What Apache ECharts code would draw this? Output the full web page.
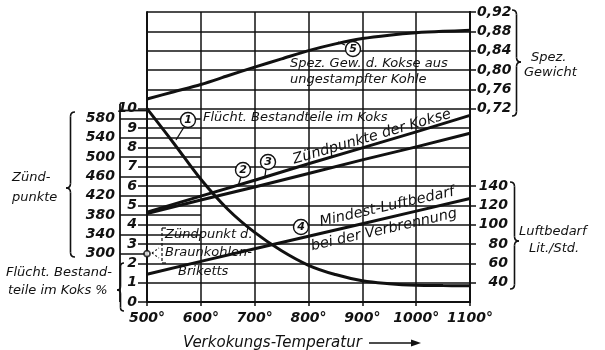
<!DOCTYPE html>
<html>
<head>
<meta charset="utf-8">
<script src="https://cdn.jsdelivr.net/npm/echarts@6/dist/echarts.min.js"></script>
<style>
html,body{margin:0;padding:0;background:#fff;}
#c{width:605px;height:350px;}
</style>
</head>
<body>
<div id="c"></div>
<script>
// ---- data ----
const tempsCurve = [500, 550, 600, 650, 700, 750, 800, 850, 900, 950, 1000, 1050, 1100];
const fluechtig = [10.0, 8.2, 6.35, 4.8, 3.6, 2.65, 1.9, 1.42, 1.1, 0.95, 0.87, 0.85, 0.84];         // curve 1, %
const spezGewicht = [0.740, 0.755, 0.770, 0.788, 0.806, 0.823, 0.840, 0.854, 0.865, 0.872, 0.877, 0.880, 0.882]; // curve 5
const tempsLine = [500, 600, 700, 800, 900, 1000, 1100];
const zuendKokse2 = [383, 411, 438, 466, 494, 521, 549];   // curve 2
const zuendKokse3 = [386, 419, 452, 486, 519, 552, 586];   // curve 3
const luftbedarf = [48.7, 62, 75, 88, 101, 114, 127];      // curve 4
const braunkohlePunkt = [[500, 300]];                       // Zündpunkt d. Braunkohlen-Briketts
const fluechtTicks = [0, 1, 2, 3, 4, 5, 6, 7, 8, 9, 10];
const zuendTicks = [300, 340, 380, 420, 460, 500, 540, 580];
const zuendHalfLines = [340, 380, 420, 460, 500, 540, 580];
const spezTicks = [0.72, 0.76, 0.80, 0.84, 0.88, 0.92];
const luftTicks = [40, 60, 80, 100, 120, 140];

const INK = '#111';
const NUMFONT = {fontFamily: 'DejaVu Sans', fontStyle: 'italic', fontWeight: 'bold', fontSize: 14, color: INK};
const TXT = 'italic 13px "DejaVu Sans"';
const TXT_BIG = 'italic 14.5px "DejaVu Sans"';

const zip = (xs, ys) => xs.map((x, i) => [x, ys[i]]);

function braceLeft(x, y1, y2, w, ym) {
  const h = w / 2; ym = ym === undefined ? (y1 + y2) / 2 : ym;
  const st = {stroke: INK, lineWidth: 1.6, fill: null};
  return [
    {type: 'bezierCurve', shape: {x1: x, y1: y1, x2: x - h, y2: y1 + h, cpx1: x - h, cpy1: y1}, style: st},
    {type: 'line', shape: {x1: x - h, y1: y1 + h, x2: x - h, y2: ym - h}, style: st},
    {type: 'bezierCurve', shape: {x1: x - h, y1: ym - h, x2: x - w, y2: ym, cpx1: x - h, cpy1: ym}, style: st},
    {type: 'bezierCurve', shape: {x1: x - w, y1: ym, x2: x - h, y2: ym + h, cpx1: x - h, cpy1: ym}, style: st},
    {type: 'line', shape: {x1: x - h, y1: ym + h, x2: x - h, y2: y2 - h}, style: st},
    {type: 'bezierCurve', shape: {x1: x - h, y1: y2 - h, x2: x, y2: y2, cpx1: x - h, cpy1: y2}, style: st}
  ];
}
function braceRight(x, y1, y2, w, ym) {
  const h = w / 2; ym = ym === undefined ? (y1 + y2) / 2 : ym;
  const st = {stroke: INK, lineWidth: 1.6, fill: null};
  return [
    {type: 'bezierCurve', shape: {x1: x, y1: y1, x2: x + h, y2: y1 + h, cpx1: x + h, cpy1: y1}, style: st},
    {type: 'line', shape: {x1: x + h, y1: y1 + h, x2: x + h, y2: ym - h}, style: st},
    {type: 'bezierCurve', shape: {x1: x + h, y1: ym - h, x2: x + w, y2: ym, cpx1: x + h, cpy1: ym}, style: st},
    {type: 'bezierCurve', shape: {x1: x + w, y1: ym, x2: x + h, y2: ym + h, cpx1: x + h, cpy1: ym}, style: st},
    {type: 'line', shape: {x1: x + h, y1: ym + h, x2: x + h, y2: y2 - h}, style: st},
    {type: 'bezierCurve', shape: {x1: x + h, y1: y2 - h, x2: x, y2: y2, cpx1: x + h, cpy1: y2}, style: st}
  ];
}
function txt(s, x, y, align, rot, font) {
  return {type: 'text', x: x, y: y, rotation: rot || 0, z: 10,
    style: {text: s, font: font || TXT, fill: INK, align: align || 'left', verticalAlign: 'middle'}};
}
function numCircle(n, x, y) {
  return [
    {type: 'circle', shape: {cx: x, cy: y, r: 7.5}, style: {stroke: INK, lineWidth: 1.4, fill: '#fff'}, z: 9},
    {type: 'text', x: x, y: y + 0.5, z: 10, style: {text: String(n), font: 'italic bold 11px "DejaVu Sans"', fill: INK, align: 'center', verticalAlign: 'middle'}}
  ];
}
function seg(x1, y1, x2, y2, w, dash) {
  return {type: 'line', z: 8, shape: {x1: x1, y1: y1, x2: x2, y2: y2}, style: {stroke: INK, lineWidth: w || 1.3, lineDash: dash || null}};
}

const graphics = [].concat(
  // left descriptions
  txt('Zünd-', 12, 178), txt('punkte', 12, 198),
  braceLeft(75, 112, 257, 9, 188),
  txt('Flücht. Bestand-', 6, 273), txt('teile im Koks %', 8, 291),
  braceLeft(124, 263, 311, 7, 290),
  // right descriptions
  txt('Spez.', 531, 58), txt('Gewicht', 524, 73),
  braceRight(512, 10, 116, 9, 62),
  txt('Luftbedarf', 519, 232), txt('Lit./Std.', 529, 249),
  braceRight(510, 182, 289, 9, 241),
  // frame pieces of the left scales
  seg(120, 104, 120, 302, 1.8),
  seg(120, 110.5, 148, 110.5, 1.8),
  // curve annotations
  txt('Spez. Gew. d. Kokse aus', 290, 64, 'left', 0, TXT),
  txt('ungestampfter Kohle', 290, 80, 'left', 0, TXT),
  numCircle(5, 353, 49), seg(345, 45, 338, 42),
  numCircle(1, 188, 120), txt('Flücht. Bestandteile im Koks', 203, 118),
  seg(184, 127, 176, 140),
  numCircle(2, 243, 170), seg(241, 177, 238, 186),
  numCircle(3, 268, 162), seg(266, 169, 265, 176),
  txt('Zündpunkte der Kokse', 372, 137, 'center', 0.286, TXT_BIG),
  numCircle(4, 301, 227),
  txt('Mindest-Luftbedarf', 387, 207, 'center', 0.225, TXT_BIG),
  txt('bei der Verbrennung', 384, 230, 'center', 0.225, TXT_BIG),
  txt('Zündpunkt d.', 165, 235), txt('Braunkohlen-', 165, 253), txt('Briketts', 178, 272),
  seg(162, 228, 162, 263, 1.2, [3, 2]), seg(162, 228, 166, 228, 1.2), seg(162, 263, 166, 263, 1.2),
  seg(152, 253, 159, 248, 1.1, [2, 2]), seg(152, 253, 159, 258, 1.1, [2, 2]),
  // x axis title
  txt('Verkokungs-Temperatur', 183, 343, 'left', 0, 'italic 15px "DejaVu Sans"'),
  seg(369, 343, 414, 343, 1.6),
  {type: 'polygon', z: 8, shape: {points: [[421, 343], [411, 339.5], [411, 346.5]]}, style: {fill: INK}}
);

const chart = echarts.init(document.getElementById('c'), null, {renderer: 'canvas'});
chart.setOption({
  animation: false,
  backgroundColor: '#fff',
  grid: {left: 147, right: 135, top: 12, bottom: 48},
  xAxis: {
    type: 'value', min: 500, max: 1100, interval: 100,
    axisLine: {show: true, lineStyle: {color: INK, width: 2}},
    axisTick: {show: true, length: 4, lineStyle: {color: INK, width: 1.5}},
    axisLabel: Object.assign({margin: 9, formatter: v => v + '°'}, NUMFONT),
    splitLine: {show: true, lineStyle: {color: INK, width: 1.5}}
  },
  yAxis: [
    { // 0: flüchtige Bestandteile %
      type: 'value', position: 'left', min: 0, max: 15, interval: 1,
      axisLine: {show: true, lineStyle: {color: INK, width: 2}},
      axisTick: {show: true, length: 9, customValues: fluechtTicks, lineStyle: {color: INK, width: 1.5}},
      axisLabel: Object.assign({margin: 10, customValues: fluechtTicks}, NUMFONT),
      splitLine: {show: false}
    },
    { // 1: Zündpunkte
      type: 'value', position: 'left', offset: 27, min: 200, max: 800, interval: 40,
      axisLine: {show: false},
      axisTick: {show: true, inside: true, length: 27, customValues: zuendTicks, lineStyle: {color: INK, width: 1.5}},
      axisLabel: Object.assign({margin: 5, customValues: zuendTicks}, NUMFONT),
      splitLine: {show: false}
    },
    { // 2: Spez. Gewicht
      type: 'value', position: 'right', min: 0.32, max: 0.92, interval: 0.04,
      axisLine: {show: true, lineStyle: {color: INK, width: 2}},
      axisTick: {show: true, length: 6, customValues: spezTicks, lineStyle: {color: INK, width: 1.5}},
      axisLabel: Object.assign({margin: 7, customValues: spezTicks, formatter: v => v.toFixed(2).replace('.', ',')}, NUMFONT),
      splitLine: {show: false}
    },
    { // 3: Luftbedarf
      type: 'value', position: 'right', min: 20, max: 320, interval: 20,
      axisLine: {show: true, lineStyle: {color: INK, width: 2}},
      axisTick: {show: true, length: 6, customValues: luftTicks, lineStyle: {color: INK, width: 1.5}},
      axisLabel: Object.assign({margin: 38, align: 'right', customValues: luftTicks}, NUMFONT),
      splitLine: {show: false}
    },
    { // 4: grid only
      type: 'value', position: 'left', min: 0, max: 15, interval: 1,
      axisLine: {show: false}, axisTick: {show: false}, axisLabel: {show: false},
      splitLine: {show: true, lineStyle: {color: INK, width: 1.5}}
    }
  ],
  series: [
    {name: '1', type: 'line', yAxisIndex: 0, data: zip(tempsCurve, fluechtig), smooth: 0.4, symbol: 'none',
      lineStyle: {color: INK, width: 3}, z: 5},
    {name: '2', type: 'line', yAxisIndex: 1, data: zip(tempsLine, zuendKokse2), symbol: 'none',
      lineStyle: {color: INK, width: 3}, z: 5,
      markLine: {silent: true, symbol: 'none', label: {show: false},
        lineStyle: {color: INK, width: 1.5, type: 'solid'},
        data: zuendHalfLines.map(v => [{coord: [500, v]}, {coord: [600, v]}])}},
    {name: '3', type: 'line', yAxisIndex: 1, data: zip(tempsLine, zuendKokse3), symbol: 'none',
      lineStyle: {color: INK, width: 3}, z: 5},
    {name: '4', type: 'line', yAxisIndex: 3, data: zip(tempsLine, luftbedarf), symbol: 'none',
      lineStyle: {color: INK, width: 3}, z: 5},
    {name: '5', type: 'line', yAxisIndex: 2, data: zip(tempsCurve, spezGewicht), smooth: 0.3, symbol: 'none',
      lineStyle: {color: INK, width: 3}, z: 5},
    {name: 'Braunkohlen-Briketts', type: 'scatter', yAxisIndex: 1, data: braunkohlePunkt,
      symbol: 'circle', symbolSize: 6, itemStyle: {color: '#fff', borderColor: INK, borderWidth: 1.8}, z: 6}
  ],
  graphic: {elements: graphics}
});
</script>
</body>
</html>
